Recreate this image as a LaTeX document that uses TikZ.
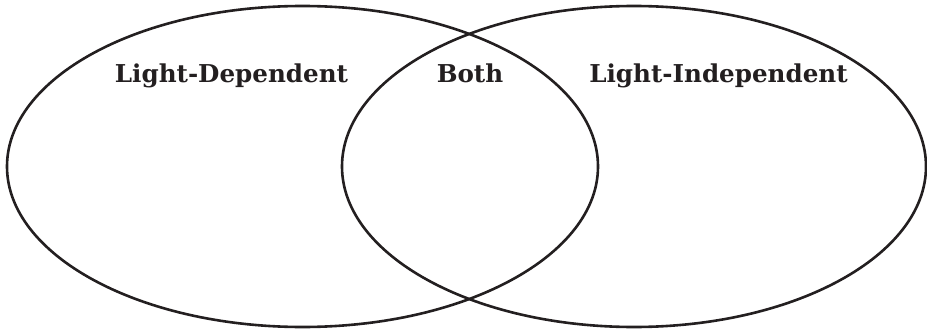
\documentclass[tikz,border=0pt]{standalone}
\usepackage{fontspec}
\setmainfont{DejaVu Serif}
\definecolor{inkdark}{HTML}{231F20}
\tikzset{
  ring/.style={draw=inkdark, line width=2.6pt},
  heading/.style={text=inkdark, font=\bfseries\fontsize{24.6}{28}\selectfont, anchor=base, inner sep=0pt}
}
\begin{document}
\begin{tikzpicture}[x=1pt, y=-1pt]
  \useasboundingbox (0,0) rectangle (927,329);

  % 1. two circles
  \draw[ring] (302.5,166.5) ellipse [x radius=295.5, y radius=160.5];
  \draw[ring] (634,166.5) ellipse [x radius=292, y radius=160.5];

  % 2. headings
  \node[heading] (dep) at (231.5,83) {Light-Dependent};
  \node[heading] (both) at (470,83) {Both};
  \node[heading] (indep) at (718.5,83) {Light-Independent};
\end{tikzpicture}
\end{document}
